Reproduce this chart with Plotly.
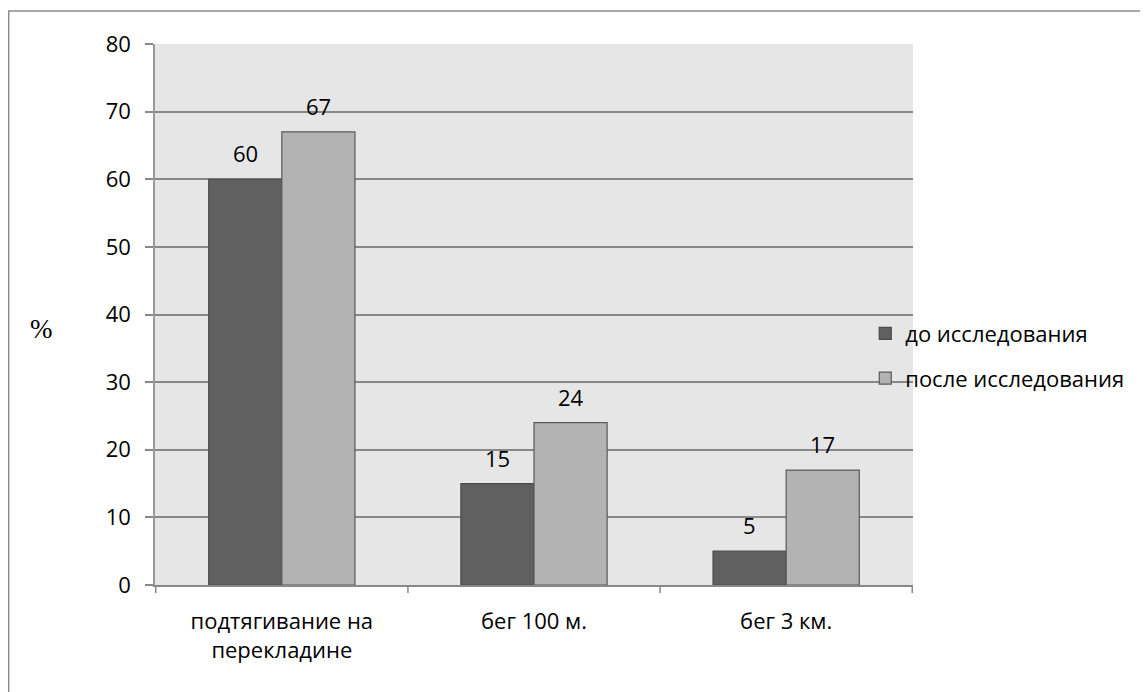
import plotly.graph_objects as go

categories = ["подтягивание на<br>перекладине", "бег 100 м.", "бег 3 км."]
before = [60, 15, 5]
after = [67, 24, 17]
series_names = ["до исследования", "после исследования"]
y_ticks = [0, 10, 20, 30, 40, 50, 60, 70, 80]

font = "Open Sans, Noto Sans, sans-serif"
fsize = 22

fig = go.Figure()
fig.add_trace(go.Bar(
    x=categories, y=before, name=series_names[0], legendgroup="a",
    marker_color="#606060", marker_line_color="#4a4a4a", marker_line_width=1.2,
))
fig.add_trace(go.Bar(
    x=categories, y=after, name=series_names[1], legendgroup="b",
    marker_color="#b3b3b3", marker_line_color="#5a5a5a", marker_line_width=1.2,
))

# value labels above the bars
for vals, shift in [(before, -36.5), (after, 36.5)]:
    for cat, v in zip(categories, vals):
        fig.add_annotation(x=cat, y=v, text=str(v), showarrow=False,
                           xref="x", yref="y", yanchor="bottom",
                           xshift=shift, yshift=9,
                           font=dict(size=fsize, family=font, color="black"))

fig.update_layout(
    width=1148, height=692,
    margin=dict(l=147, r=243, t=36, b=115),
    paper_bgcolor="white", plot_bgcolor="#e6e6e6",
    barmode="group", bargap=0.42, bargroupgap=0,
    font=dict(family=font, size=fsize, color="black"),
    showlegend=True,
    legend=dict(
        x=0.937, y=0.423, xanchor="left", yanchor="middle",
        bgcolor="rgba(0,0,0,0)", font=dict(size=fsize, family=font),
        itemwidth=30, tracegroupgap=13, traceorder="grouped",
    ),
    xaxis=dict(
        showgrid=False, showline=True, linecolor="#888888", linewidth=1.5,
        ticks="", tickfont=dict(size=fsize), zeroline=False, ticklabelstandoff=16,
    ),
    yaxis=dict(
        range=[0, 80], tickvals=y_ticks, showgrid=True, gridcolor="#888888", gridwidth=1.5,
        showline=True, linecolor="#999999", linewidth=1.5,
        ticks="outside", ticklen=8, tickcolor="#888888", tickwidth=1.5,
        tickfont=dict(size=fsize), zeroline=False, ticklabelstandoff=10,
    ),
)

# category boundary ticks under the x axis
for xb in [-0.5, 0.5, 1.5, 2.5]:
    fig.add_shape(type="line", xref="x", yref="paper", x0=xb, x1=xb, y0=0, y1=-0.015,
                  line=dict(color="#888888", width=1.5))

# "%" axis label
fig.add_annotation(text="%", xref="paper", yref="paper", x=-0.167, y=0.473,
                   showarrow=False, font=dict(family="Liberation Serif, serif", size=27))

# outer chart border
fig.add_shape(type="rect", xref="paper", yref="paper",
              x0=-0.193, x1=1.4, y0=-0.3, y1=1.061,
              line=dict(color="#8c8c8c", width=1.5), layer="below")

fig.write_html("out.html")
